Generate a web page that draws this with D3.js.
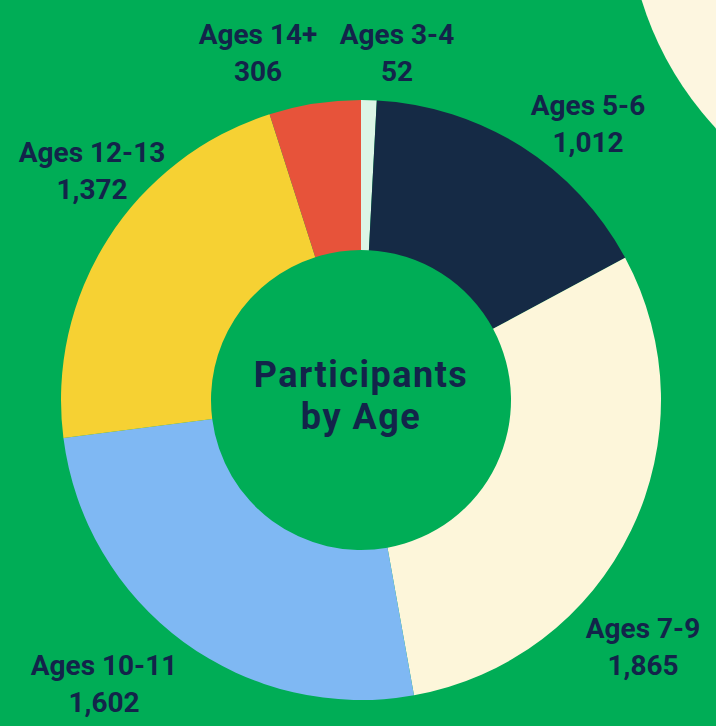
<!DOCTYPE html>
<html>
<head>
<meta charset="utf-8">
<script src="https://cdn.jsdelivr.net/npm/d3@7"></script>
<style>
  html, body { margin: 0; padding: 0; background: #00ad56; }
  svg { display: block; }
  text { font-family: Roboto, "Noto Sans", sans-serif; font-weight: 700; fill: #13244a; }
</style>
</head>
<body>
<svg id="chart" width="716" height="726"></svg>
<script>
const categories = ["Ages 3-4", "Ages 5-6", "Ages 7-9", "Ages 10-11", "Ages 12-13", "Ages 14+"];
const values = [52, 1012, 1865, 1602, 1372, 306];
const colors = ["#dcf5e6", "#152a45", "#fdf6da", "#7fb8f3", "#f6d133", "#e7533a"];
const title = ["Participants", "by Age"];

// layout (label anchor points, pixels)
const labelPos = [[397, 44], [588, 115], [643, 638], [104, 675], [92, 162], [258, 44]];

const W = 716, H = 726;
const cx = 361, cy = 400, rOuter = 300, rInner = 150;

const svg = d3.select("#chart");

svg.append("rect").attr("width", W).attr("height", H).attr("fill", "#00ad56");

// decorative corner circle
svg.append("circle").attr("cx", 957).attr("cy", -97).attr("r", 330).attr("fill", "#fdf6e0");

const data = categories.map((c, i) => ({ label: c, value: values[i], color: colors[i], pos: labelPos[i] }));

const pie = d3.pie().value(d => d.value).sort(null).startAngle(0).endAngle(2 * Math.PI);
const arc = d3.arc().innerRadius(rInner).outerRadius(rOuter);

const g = svg.append("g").attr("transform", `translate(${cx},${cy})`);
g.selectAll("path").data(pie(data)).join("path")
  .attr("d", arc)
  .attr("fill", d => d.data.color);

const fmt = d3.format(",");
const lab = svg.append("g").selectAll("text").data(data).join("text")
  .attr("text-anchor", "middle")
  .attr("font-size", 28)
  .attr("x", d => d.pos[0])
  .attr("y", d => d.pos[1]);
lab.append("tspan").attr("x", d => d.pos[0]).text(d => d.label);
lab.append("tspan").attr("x", d => d.pos[0]).attr("dy", 37).text(d => fmt(d.value));

svg.append("g").selectAll("text").data(title).join("text")
  .attr("text-anchor", "middle")
  .attr("font-size", 36)
  .attr("letter-spacing", 1.5)
  .attr("x", cx)
  .attr("y", (d, i) => 387 + i * 42)
  .text(d => d);
</script>
</body>
</html>
